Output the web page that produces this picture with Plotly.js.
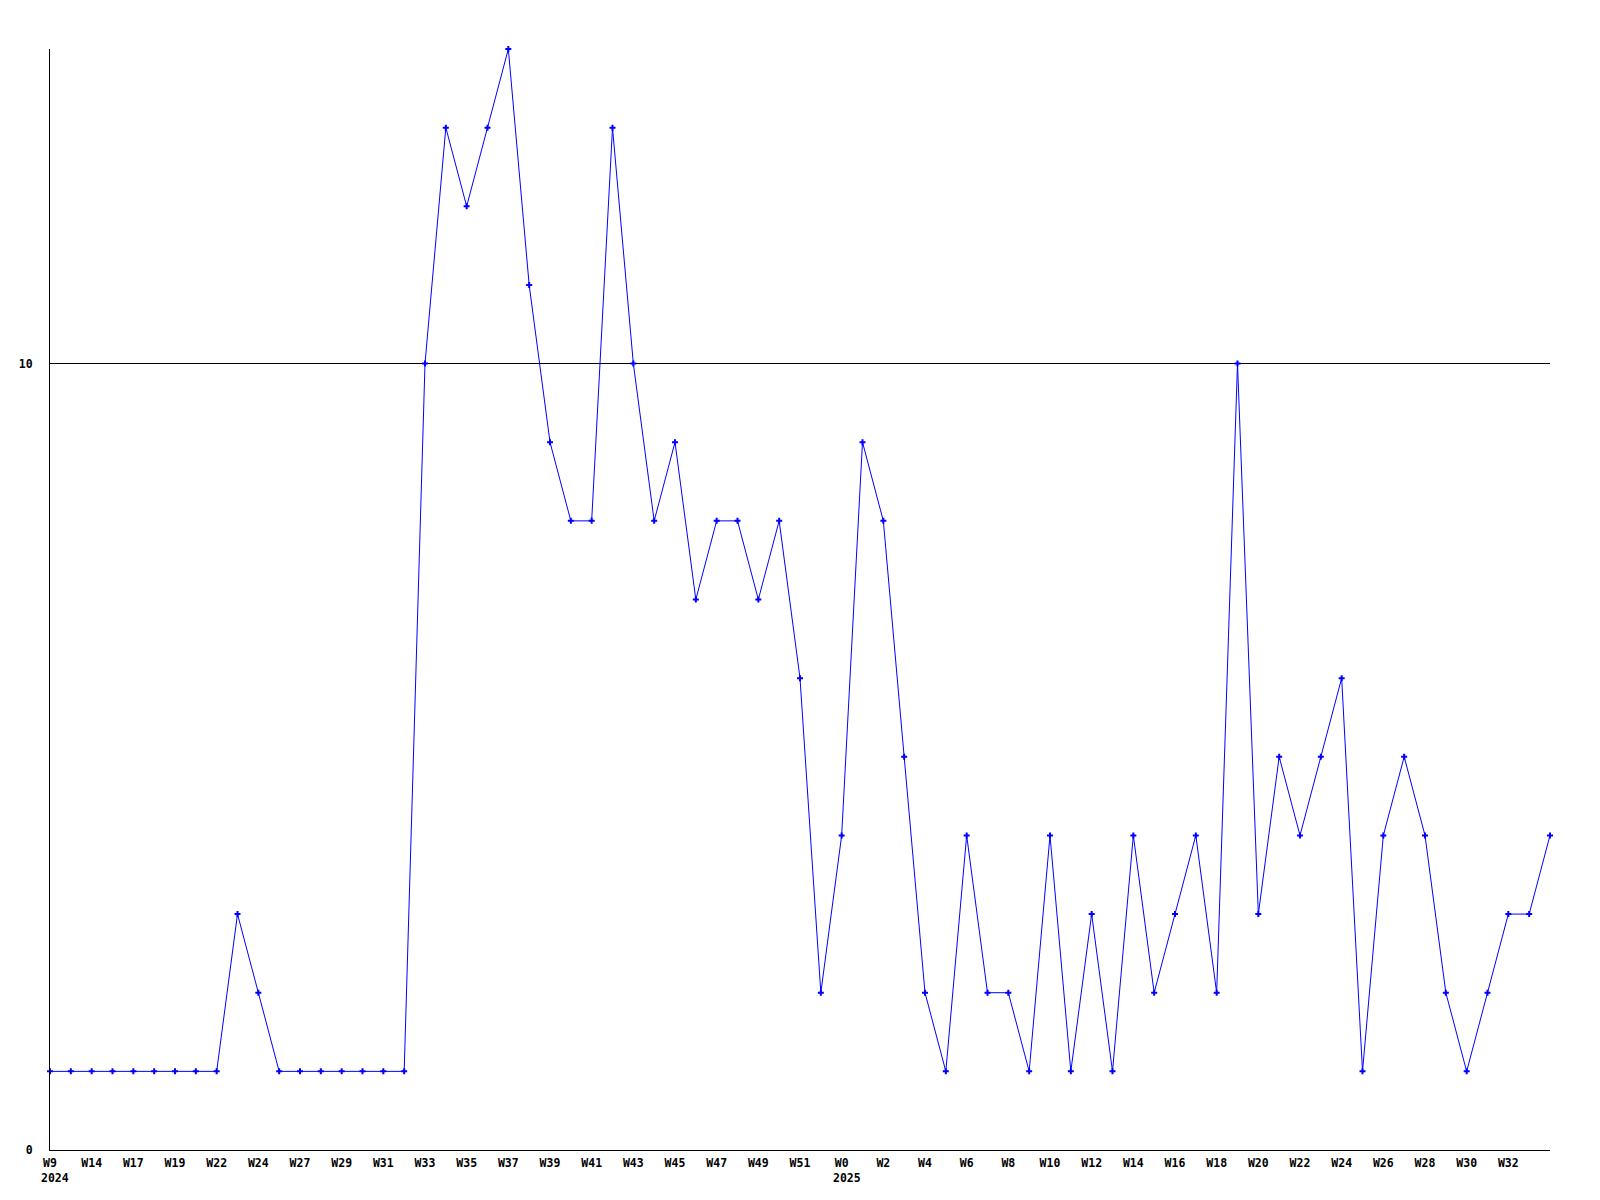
<!DOCTYPE html>
<html>
<head>
<meta charset="utf-8">
<script src="https://cdn.plot.ly/plotly-3.0.1.min.js"></script>
<style>html,body{margin:0;padding:0;background:#fff;}#chart{width:1600px;height:1200px;}</style>
</head>
<body>
<div id="chart"></div>
<script>
// Values per sample, in order (W9 2024 ... W34 2025)
var counts = [1,1,1,1,1,1,1,1,1,3,2,1,1,1,1,1,1,1,10,13,12,13,14,11,9,8,8,13,10,8,9,7,8,8,7,8,6,2,4,9,8,5,2,1,4,2,2,1,4,1,3,1,4,2,3,4,2,10,3,5,4,5,6,1,4,5,4,2,1,2,3,3,4];
// Tick labels shown under every second sample
var tickLabels = ["W9","W14","W17","W19","W22","W24","W27","W29","W31","W33","W35","W37","W39","W41","W43","W45","W47","W49","W51","W0","W2","W4","W6","W8","W10","W12","W14","W16","W18","W20","W22","W24","W26","W28","W30","W32"];
// Year labels and the tick label they sit under
var yearLabels = ["2024","2025"];
var yearAt = ["W9","W0"];

var xs = counts.map(function(_, i){ return i; });
var tickVals = tickLabels.map(function(_, i){ return i * 2; });

var fontFam = "DejaVu Sans Mono, Liberation Mono, monospace";

var annotations = yearLabels.map(function(y, k){
  var idx = tickLabels.indexOf(yearAt[k]) * 2;
  return {
    x: idx, y: 0, xref: 'x', yref: 'paper',
    text: y, showarrow: false,
    xanchor: 'left', yanchor: 'top',
    xshift: -11, yshift: -19,
    font: {family: fontFam, size: 11.5, color: '#000', weight: 'bold'}
  };
});

var trace = {
  x: xs, y: counts, type: 'scatter', mode: 'lines+markers',
  line: {color: '#0000ff', width: 1},
  marker: {color: '#0000ff', symbol: 'cross', size: 5, line: {width: 0}},
  cliponaxis: false, hoverinfo: 'none'
};

var layout = {
  width: 1600, height: 1200,
  margin: {l: 50, r: 50, t: 49, b: 50},
  paper_bgcolor: '#fff', plot_bgcolor: '#fff',
  showlegend: false,
  xaxis: {
    range: [0, 72], showgrid: false, zeroline: false,
    showline: true, linecolor: '#000', linewidth: 1,
    tickvals: tickVals, ticktext: tickLabels,
    ticks: '', ticklabelstandoff: 2,
    tickfont: {family: fontFam, size: 11.5, color: '#000', weight: 'bold'}
  },
  yaxis: {
    range: [0, 14], showgrid: true, gridcolor: '#000', gridwidth: 1,
    zeroline: false, showline: true, linecolor: '#000', linewidth: 1,
    tickvals: [0, 10], ticktext: ['0', '10'],
    ticks: '', ticklabelstandoff: 14,
    tickfont: {family: fontFam, size: 11.5, color: '#000', weight: 'bold'}
  },
  annotations: annotations
};

Plotly.newPlot('chart', [trace], layout, {staticPlot: true, displayModeBar: false});
</script>
</body>
</html>
